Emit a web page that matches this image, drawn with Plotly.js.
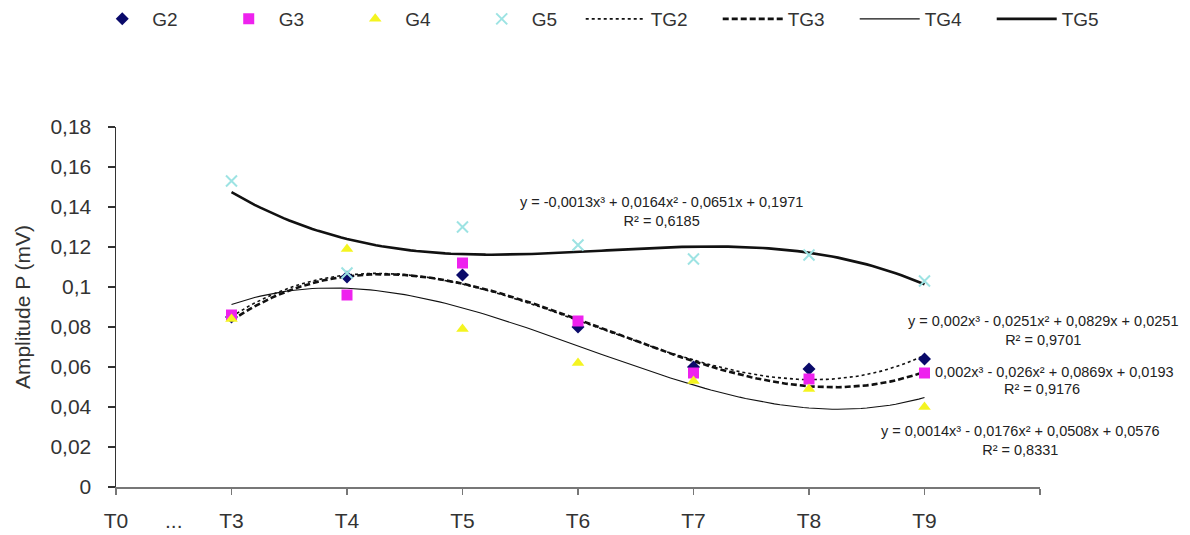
<!DOCTYPE html>
<html>
<head>
<meta charset="utf-8">
<script src="https://cdn.plot.ly/plotly-3.0.1.min.js"></script>
<style>html,body{margin:0;padding:0;background:#fff;}#chart{width:1190px;height:535px;}</style>
</head>
<body>
<div id="chart"></div>
<script>
// ---- data ----
var categories = ['T3', 'T4', 'T5', 'T6', 'T7', 'T8', 'T9'];
var catIndex = [1, 2, 3, 4, 5, 6, 7];
var G2 = [0.085, 0.105, 0.106, 0.080, 0.060, 0.059, 0.064];
var G3 = [0.086, 0.096, 0.112, 0.083, 0.057, 0.054, 0.057];
var G4 = [0.084, 0.119, 0.079, 0.062, 0.053, 0.049, 0.040];
var G5 = [0.153, 0.107, 0.130, 0.121, 0.114, 0.116, 0.103];
var xTickVals = [0, 0.5, 1, 2, 3, 4, 5, 6, 7];
var xTickText = ['T0', '...', 'T3', 'T4', 'T5', 'T6', 'T7', 'T8', 'T9'];
var yTickVals = [0, 0.02, 0.04, 0.06, 0.08, 0.1, 0.12, 0.14, 0.16, 0.18];
var yTickText = ['0', '0,02', '0,04', '0,06', '0,08', '0,1', '0,12', '0,14', '0,16', '0,18'];
var eqTG2 = 'y = 0,002x³ - 0,0251x² + 0,0829x + 0,0251<br>R² = 0,9701';
var eqTG3 = '0,002x³ - 0,026x² + 0,0869x + 0,0193';
var r2TG3 = 'R² = 0,9176';
var eqTG4 = 'y = 0,0014x³ - 0,0176x² + 0,0508x + 0,0576<br>R² = 0,8331';
var eqTG5 = 'y = -0,0013x³ + 0,0164x² - 0,0651x + 0,1971<br>R² = 0,6185';

// ---- cubic least-squares trendline (as the spreadsheet does) ----
function cubicFit(xs, ys) {
  var n = 4, A = [], b = [];
  for (var i = 0; i < n; i++) { A.push([0,0,0,0]); b.push(0); }
  for (var k = 0; k < xs.length; k++) {
    for (var i = 0; i < n; i++) {
      for (var j = 0; j < n; j++) A[i][j] += Math.pow(xs[k], i + j);
      b[i] += ys[k] * Math.pow(xs[k], i);
    }
  }
  for (var c = 0; c < n; c++) {
    var p = c;
    for (var r = c + 1; r < n; r++) if (Math.abs(A[r][c]) > Math.abs(A[p][c])) p = r;
    var t = A[c]; A[c] = A[p]; A[p] = t; var tb = b[c]; b[c] = b[p]; b[p] = tb;
    for (var r = c + 1; r < n; r++) {
      var f = A[r][c] / A[c][c];
      for (var j = c; j < n; j++) A[r][j] -= f * A[c][j];
      b[r] -= f * b[c];
    }
  }
  var coef = [0,0,0,0];
  for (var i = n - 1; i >= 0; i--) {
    var s = b[i];
    for (var j = i + 1; j < n; j++) s -= A[i][j] * coef[j];
    coef[i] = s / A[i][i];
  }
  return coef;
}
function trend(ys) {
  var c = cubicFit(catIndex, ys), xs = [], yv = [];
  var x0 = catIndex[0], x1 = catIndex[catIndex.length - 1];
  for (var i = 0; i <= 120; i++) {
    var x = x0 + (x1 - x0) * i / 120;
    xs.push(x); yv.push(c[0] + c[1]*x + c[2]*x*x + c[3]*x*x*x);
  }
  return {x: xs, y: yv};
}

var t2 = trend(G2), t3 = trend(G3), t4 = trend(G4), t5 = trend(G5);
var traces = [
  {x: t2.x, y: t2.y, mode: 'lines', name: 'TG2', legend: 'legend2', line: {color: '#111', width: 1.6, dash: 'dot'}},
  {x: t3.x, y: t3.y, mode: 'lines', name: 'TG3', legend: 'legend2', line: {color: '#111', width: 2.6, dash: '6px,3px'}},
  {x: t4.x, y: t4.y, mode: 'lines', name: 'TG4', legend: 'legend2', line: {color: '#111', width: 1.1}},
  {x: t5.x, y: t5.y, mode: 'lines', name: 'TG5', legend: 'legend2', line: {color: '#111', width: 2.6}},
  {x: catIndex, y: G2, mode: 'markers', name: 'G2', marker: {symbol: 'diamond', size: 10, color: '#0a0a6a'}},
  {x: catIndex, y: G3, mode: 'markers', name: 'G3', marker: {symbol: 'square', size: 11, color: '#ee22ee'}},
  {x: catIndex, y: G4, mode: 'markers', name: 'G4', marker: {symbol: 'triangle-up', size: 11, color: '#f4f420'}},
  {x: catIndex, y: G5, mode: 'markers', name: 'G5', marker: {symbol: 'x-thin', size: 11, color: '#9de3e3', line: {color: '#9de3e3', width: 2}}}
];

var fontFam = 'Liberation Sans, Arial, sans-serif';
var annFont = {size: 14.5, color: '#222'};
var layout = {
  width: 1190, height: 535,
  margin: {l: 116, r: 150, t: 127, b: 48},
  paper_bgcolor: '#fff', plot_bgcolor: '#fff',
  font: {family: fontFam, color: '#333', size: 21},
  showlegend: true,
  legend: {orientation: 'h', xref: 'container', yref: 'container', x: 0.0775, y: 1.0, xanchor: 'left', yanchor: 'top',
           itemwidth: 50, entrywidth: 61.5, entrywidthmode: 'pixels', font: {size: 19, color: '#333'}, bgcolor: 'rgba(0,0,0,0)'},
  legend2: {orientation: 'h', xref: 'container', yref: 'container', x: 0.488, y: 1.0, xanchor: 'left', yanchor: 'top',
            itemwidth: 60, entrywidth: 62, entrywidthmode: 'pixels', font: {size: 19, color: '#333'}, bgcolor: 'rgba(0,0,0,0)'},
  xaxis: {range: [0, 8], showgrid: false, zeroline: false, showline: true, linecolor: '#777', linewidth: 2,
          tickmode: 'array', tickvals: xTickVals, ticktext: xTickText, ticks: '', ticklabelstandoff: 14,
          minor: {tickmode: 'array', tickvals: [0, 1, 2, 3, 4, 5, 6, 7, 8], ticks: 'outside', ticklen: 6, tickcolor: '#777', tickwidth: 1.5},
          tickfont: {size: 21, color: '#333'}, fixedrange: true},
  yaxis: {range: [0, 0.18], showgrid: false, zeroline: false, showline: true, linecolor: '#333', linewidth: 1.5,
          tickmode: 'array', tickvals: yTickVals, ticktext: yTickText, ticks: 'outside', ticklen: 7, tickcolor: '#333', tickwidth: 1.2,
          ticklabelstandoff: 12, tickfont: {size: 21, color: '#333'},
          title: {text: 'Amplitude P (mV)', font: {size: 21, color: '#333'}, standoff: 14}, fixedrange: true},
  annotations: [
    {xref: 'paper', yref: 'y', x: 0.59, y: 0.138, text: eqTG5, showarrow: false, xanchor: 'center', font: annFont, align: 'center'},
    {xref: 'paper', yref: 'y', x: 1.003, y: 0.0782, text: eqTG2, showarrow: false, xanchor: 'center', font: annFont, align: 'center'},
    {xref: 'paper', yref: 'y', x: 0.884, y: 0.0574, text: eqTG3, showarrow: false, xanchor: 'left', font: annFont},
    {xref: 'paper', yref: 'y', x: 1.002, y: 0.0489, text: r2TG3, showarrow: false, xanchor: 'center', font: annFont},
    {xref: 'paper', yref: 'y', x: 0.979, y: 0.0234, text: eqTG4, showarrow: false, xanchor: 'center', font: annFont, align: 'center'}
  ]
};
Plotly.newPlot('chart', traces, layout, {displayModeBar: false, staticPlot: true});
</script>
</body>
</html>
